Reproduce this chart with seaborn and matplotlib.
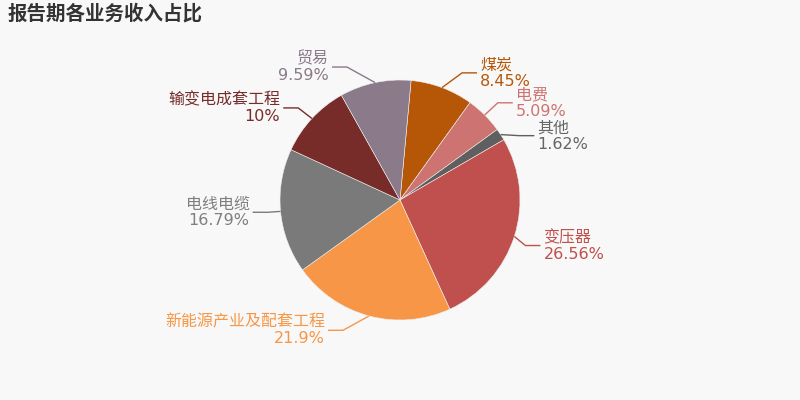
import matplotlib
matplotlib.use("Agg")
import matplotlib.pyplot as plt
import seaborn as sns
import numpy as np

# ---- data ----
categories = ["煤炭", "电费", "其他", "变压器", "新能源产业及配套工程", "电线电缆", "输变电成套工程", "贸易"]
shares = [8.45, 5.09, 1.62, 26.56, 21.9, 16.79, 10, 9.59]
share_labels = ["8.45%", "5.09%", "1.62%", "26.56%", "21.9%", "16.79%", "10%", "9.59%"]
title_text = "报告期各业务收入占比"

# ---- style ----
slice_colors = ["#b65708", "#cd7371", "#5f5f5f", "#c0504d", "#f79646", "#7a7a7a", "#772c2a", "#8b7a89"]
text_colors = ["#b65708", "#cd7371", "#666666", "#c0504d", "#f79646", "#7f7f7f", "#772c2a", "#8b7a89"]
# label elbow nudges (pixels, x right / y down) relative to default radial position
nudges = [(13, 4), (-1, 2), (2, 12), (-8, 3), (-21, -5), (7, -1), (1, 3), (-24, 4)]

sns.set_theme(style="white")
plt.rcParams["font.family"] = ["Noto Sans CJK SC", "DejaVu Sans"]

BG = "#f8f8f8"
W, H = 800, 400
fig = plt.figure(figsize=(8, 4), dpi=100, facecolor=BG)
ax = fig.add_axes([0, 0, 1, 1])
ax.set_facecolor(BG)

cx, cy, R = 400, 200, 120
start = 84.7
wedges, _ = ax.pie(shares, colors=sns.color_palette(slice_colors), startangle=start,
                   counterclock=False, center=(cx, cy), radius=R,
                   wedgeprops=dict(linewidth=0.4, edgecolor="#f0f0f0"))

ax.set_xlim(0, W)
ax.set_ylim(0, H)
ax.set_aspect("equal")
ax.axis("off")

total = sum(shares)
cum = 0.0
for i, s in enumerate(shares):
    mid = np.deg2rad(start - (cum + s / 2) / total * 360)
    cum += s
    c, sn = np.cos(mid), np.sin(mid)
    x0, y0 = cx + R * c, cy + R * sn
    dx, dy = nudges[i]
    ex, ey = cx + (R + 20) * c + dx, cy + (R + 20) * sn - dy
    right = c > 0
    endx = ex + 15 if right else ex - 15
    ax.plot([x0, ex, endx], [y0, ey, ey], color=slice_colors[i], lw=1, solid_capstyle="butt")
    tx = endx + 3 if right else endx - 3
    ha = "left" if right else "right"
    ax.text(tx, ey + 8, categories[i], ha=ha, va="center", fontsize=11.5, color=text_colors[i])
    ax.text(tx, ey - 8.5, share_labels[i], ha=ha, va="center", fontsize=11.5,
            color=text_colors[i], family=["DejaVu Sans"])

ax.text(7, H - 14, title_text, ha="left", va="center", fontsize=14,
        fontweight="bold", color="#333333")

fig.savefig("out.png", dpi=100, facecolor=BG)
